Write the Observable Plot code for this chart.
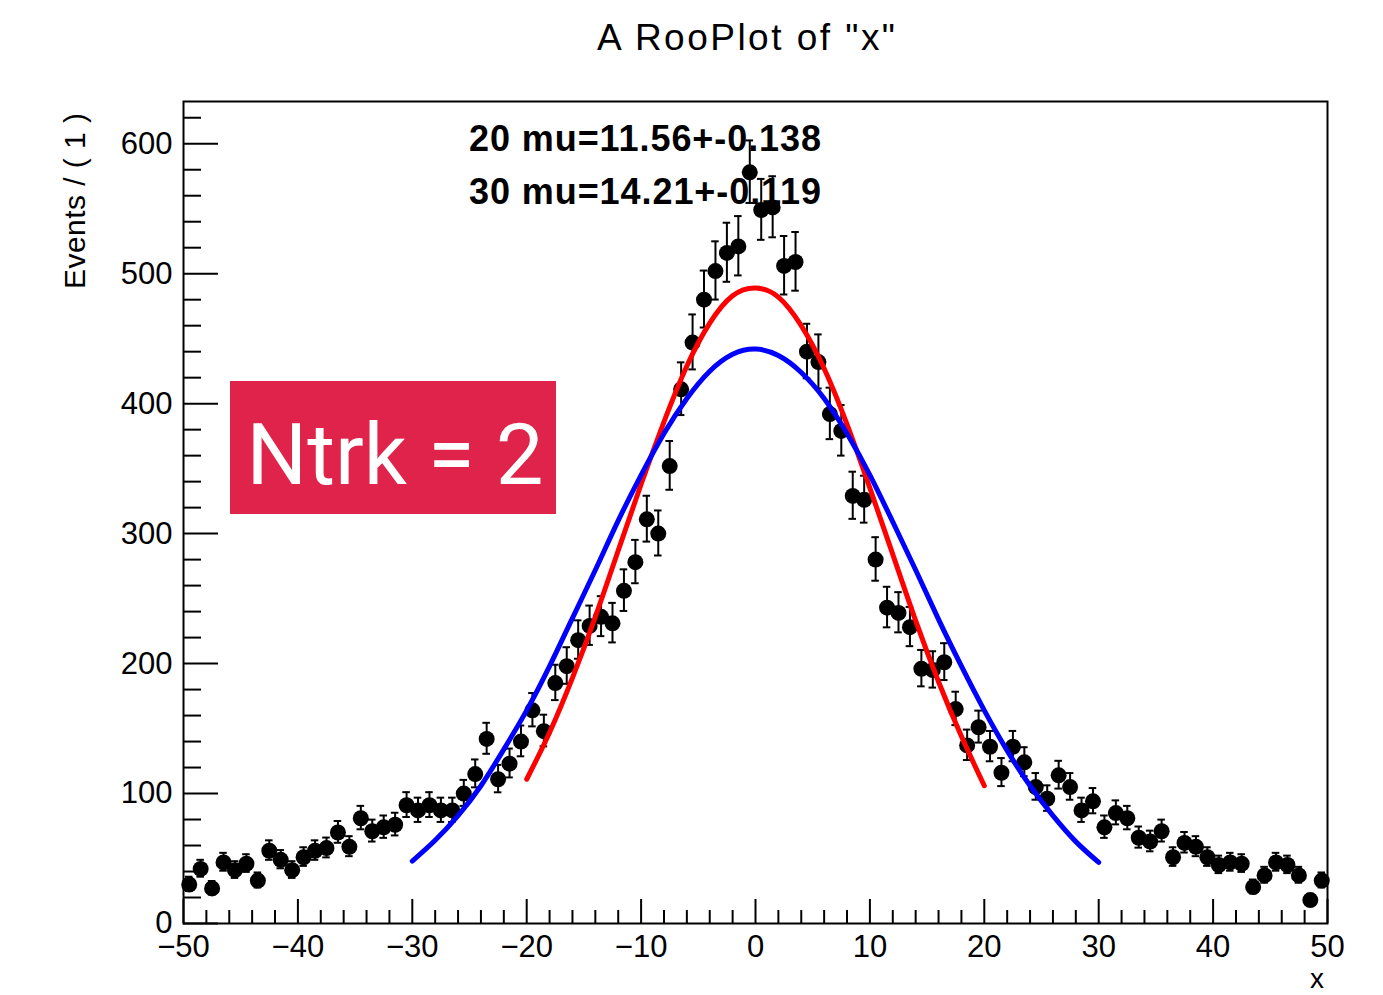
<!DOCTYPE html>
<html>
<head>
<meta charset="utf-8">
<script src="https://cdn.jsdelivr.net/npm/d3@7"></script>
<script src="https://cdn.jsdelivr.net/npm/@observablehq/plot@0.6"></script>
<style>
  html, body { margin: 0; padding: 0; background: #fff; }
  #chart svg { display: block; }
</style>
</head>
<body>
<div id="chart"></div>
<script>
// ---- data ----
const binCenters = [
  -49.5,-48.5,-47.5,-46.5,-45.5,-44.5,-43.5,-42.5,-41.5,-40.5,
  -39.5,-38.5,-37.5,-36.5,-35.5,-34.5,-33.5,-32.5,-31.5,-30.5,
  -29.5,-28.5,-27.5,-26.5,-25.5,-24.5,-23.5,-22.5,-21.5,-20.5,
  -19.5,-18.5,-17.5,-16.5,-15.5,-14.5,-13.5,-12.5,-11.5,-10.5,
  -9.5,-8.5,-7.5,-6.5,-5.5,-4.5,-3.5,-2.5,-1.5,-0.5,
  0.5,1.5,2.5,3.5,4.5,5.5,6.5,7.5,8.5,9.5,
  10.5,11.5,12.5,13.5,14.5,15.5,16.5,17.5,18.5,19.5,
  20.5,21.5,22.5,23.5,24.5,25.5,26.5,27.5,28.5,29.5,
  30.5,31.5,32.5,33.5,34.5,35.5,36.5,37.5,38.5,39.5,
  40.5,41.5,42.5,43.5,44.5,45.5,46.5,47.5,48.5,49.5
];
const events = [
  30, 42, 27, 47, 41, 46, 33, 56, 49, 41,
  51, 56, 58, 70, 59, 81, 71, 74, 76, 91,
  87, 91, 87, 87, 100, 115, 142, 111, 123, 140,
  164, 148, 185, 198, 218, 229, 236, 231, 256, 278,
  311, 300, 352, 411, 447, 480, 502, 516, 521, 578,
  549, 551, 506, 509, 440, 432, 392, 379, 329, 326,
  280, 243, 239, 228, 196, 195, 201, 165, 137, 151,
  136, 116, 136, 124, 105, 96, 114, 105, 87, 94,
  74, 85, 81, 66, 63, 71, 51, 62, 59, 51,
  45, 47, 46, 28, 37, 47, 45, 37, 18, 33
];

// fitted curves
const redX = [-20,-18,-16,-14,-12,-10,-8,-6,-4,-2,0,2,4,6,8,10,12,14,16,18,20];
const redY = [111,147,189,236,287,338,386,429,462,483,489,482,460,427,384,335,284,233,186,144,106];
const blueX = [-30,-28,-26,-24,-22,-20,-18,-16,-14,-12,-10,-8,-6,-4,-2,0,2,4,6,8,10,12,14,16,18,20,22,24,26,28,30];
const blueY = [48,64,83,106,134,164,198,235,272,310,345,377,404,425,438,442,437,424,404,377,345,309,272,234,198,164,133,106,83,63,47];

// axis ticks and labels
const xMajor = [-50,-40,-30,-20,-10,0,10,20,30,40,50];
const xMinor = [-48,-46,-44,-42,-38,-36,-34,-32,-28,-26,-24,-22,-18,-16,-14,-12,-8,-6,-4,-2,2,4,6,8,12,14,16,18,22,24,26,28,32,34,36,38,42,44,46,48];
const yMajor = [0,100,200,300,400,500,600];
const yMinor = [20,40,60,80,120,140,160,180,220,240,260,280,320,340,360,380,420,440,460,480,520,540,560,580,620];

const titleText = 'A RooPlot of "x"';
const yTitle = "Events / ( 1 )";
const xTitle = "x";
const fitLines = ["20 mu=11.56+-0.138", "30 mu=14.21+-0.119"];
const boxLabel = "Ntrk = 2";

// ---- build ----
const points = binCenters.map((x, i) => {
  const n = events[i];
  const s = Math.sqrt(n + 0.25);
  return {x, y: n, lo: n - s + 0.5, hi: n + s + 0.5};
});
const red = redX.map((x, i) => ({x, y: redY[i]}));
const blue = blueX.map((x, i) => ({x, y: blueY[i]}));

const W = 1383, H = 995;
const mL = 183, mR = 56, mT = 101, mB = 72;
const pw = W - mL - mR, ph = H - mT - mB;
const fmt = d => d < 0 ? "\u2212" + (-d) : String(d);

const chart = Plot.plot({
  width: W, height: H,
  marginLeft: mL, marginRight: mR, marginTop: mT, marginBottom: mB,
  style: {fontFamily: "'Liberation Sans', Arial, sans-serif", background: "#fff", color: "#000", overflow: "visible"},
  x: {domain: [-50, 50]},
  y: {domain: [0, 632.5]},
  marks: [
    Plot.axisX({ticks: xMajor, tickSize: 0, tickPadding: 11, fontSize: 31, tickFormat: fmt, label: null}),
    Plot.axisY({ticks: yMajor, tickSize: 0, tickPadding: 11, fontSize: 31, tickFormat: fmt, label: null}),
    Plot.ruleX(xMajor, {x: d => d, insetTop: ph - 24, stroke: "#000", strokeWidth: 2}),
    Plot.ruleX(xMinor, {x: d => d, insetTop: ph - 13, stroke: "#000", strokeWidth: 2}),
    Plot.ruleY(yMajor, {y: d => d, insetRight: pw - 35, stroke: "#000", strokeWidth: 2}),
    Plot.ruleY(yMinor, {y: d => d, insetRight: pw - 18, stroke: "#000", strokeWidth: 2}),
    Plot.frame({stroke: "#000", strokeWidth: 2}),
    Plot.ruleX(points, {x: "x", y1: "lo", y2: "hi", stroke: "#000", strokeWidth: 2}),
    Plot.ruleY(points, {y: "hi", x1: d => d.x - 0.33, x2: d => d.x + 0.33, stroke: "#000", strokeWidth: 2}),
    Plot.ruleY(points, {y: "lo", x1: d => d.x - 0.33, x2: d => d.x + 0.33, stroke: "#000", strokeWidth: 2}),
    Plot.dot(points, {x: "x", y: "y", r: 8, fill: "#000", stroke: "none"}),
    Plot.line(red, {x: "x", y: "y", stroke: "#ff0000", strokeWidth: 5, curve: "natural"}),
    Plot.line(blue, {x: "x", y: "y", stroke: "#0000ff", strokeWidth: 5, curve: "natural"})
  ]
});

const svg = d3.select(chart);
const ff = "'Liberation Sans', Arial, sans-serif";
svg.append("text").attr("x", 597).attr("y", 50).attr("text-anchor", "start").attr("font-family", ff).attr("font-size", 37)
  .attr("textLength", 298).attr("lengthAdjust", "spacing").attr("fill", "#000").text(titleText);
svg.append("text").attr("transform", "translate(85,289) rotate(-90)").attr("text-anchor", "start").attr("font-family", ff).attr("font-size", 30)
  .attr("textLength", 176).attr("lengthAdjust", "spacing").attr("fill", "#000").text(yTitle);
svg.append("text").attr("x", 1324).attr("y", 988).attr("text-anchor", "end").attr("font-family", ff).attr("font-size", 28)
  .attr("fill", "#000").text(xTitle);
fitLines.forEach((t, i) => {
  svg.append("text").attr("x", 469).attr("y", 151 + i * 53).attr("text-anchor", "start").attr("font-family", ff).attr("font-size", 36)
    .attr("font-weight", "bold").attr("textLength", 352).attr("lengthAdjust", "spacing").attr("fill", "#000").text(t);
});
const g = svg.append("g");
g.append("rect").attr("x", 230).attr("y", 381).attr("width", 326).attr("height", 133).attr("fill", "#e0234a");
g.append("text").attr("x", 395).attr("y", 484).attr("text-anchor", "middle").attr("font-family", "Roboto, 'Noto Sans', sans-serif")
  .attr("font-size", 85).attr("fill", "#fff").text(boxLabel);

document.getElementById("chart").appendChild(chart);
</script>
</body>
</html>
